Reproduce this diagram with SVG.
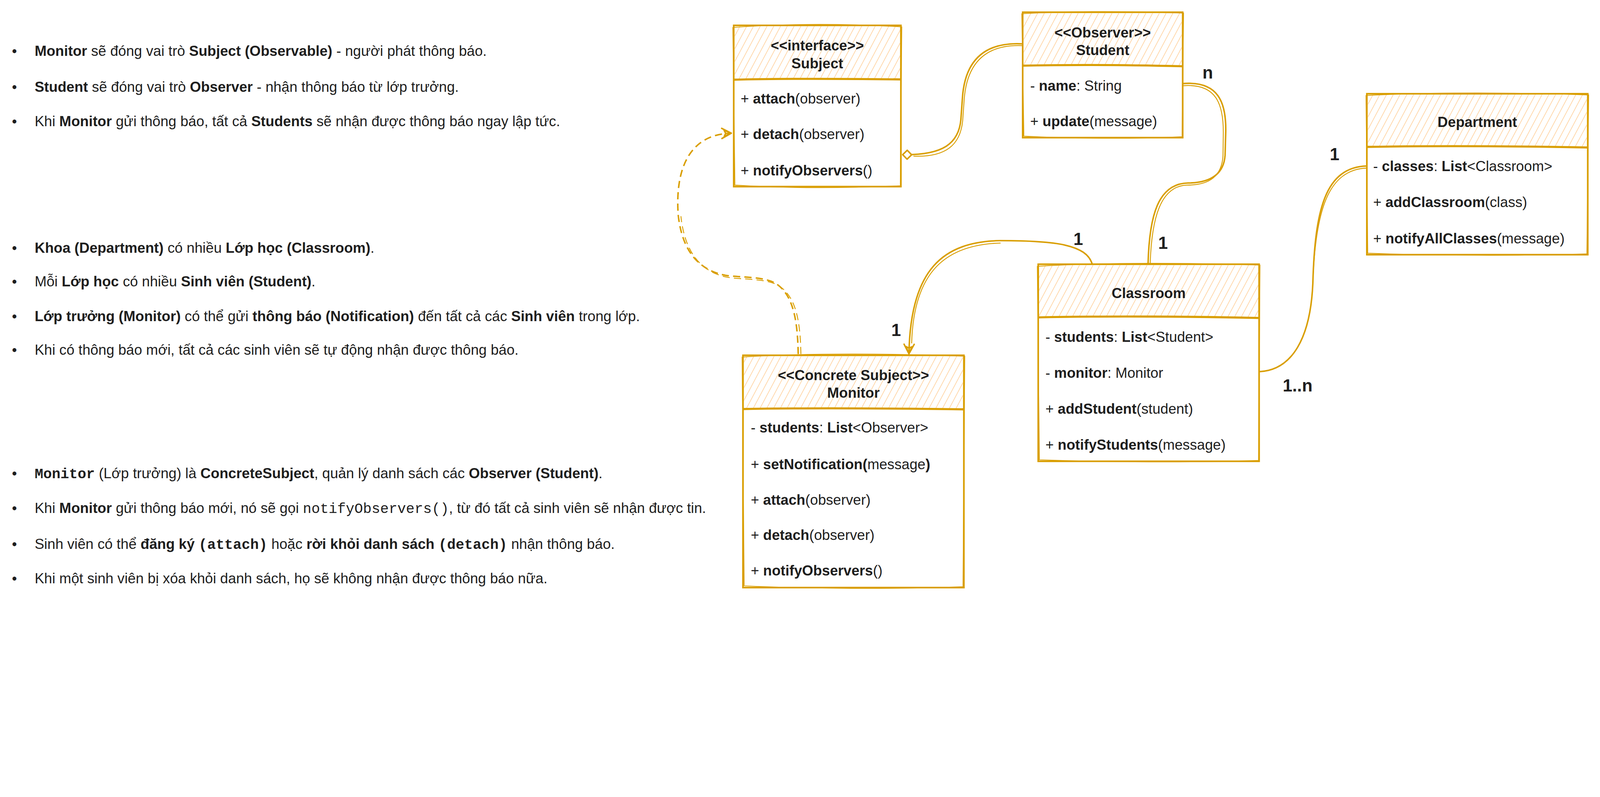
<svg xmlns="http://www.w3.org/2000/svg" width="5360" height="2040" viewBox="0 0 5360 2040">
<style>
svg{max-width:100vw;height:auto}
.t{font-family:"Liberation Sans",Arial,sans-serif;font-size:48px;fill:#1e1e1e}
.bx{font-family:"Liberation Sans",Arial,sans-serif;font-size:48px;fill:#1e1e1e}
.b{font-weight:bold}
.m{font-family:"Liberation Mono","DejaVu Sans Mono",monospace}
.lbl{font-family:"Liberation Sans",Arial,sans-serif;font-size:58px;font-weight:bold;fill:#1e1e1e}
.box{fill:#ffffff;stroke:#d99e00;stroke-width:5.5}
.sk{fill:none;stroke:#d99e00;stroke-width:2.5}
.dv{fill:none;stroke:#d99e00;stroke-width:7}
.ln{fill:none;stroke:#d99e00;stroke-width:5}
.ln2{fill:none;stroke:#d99e00;stroke-width:3}
.dash{stroke-dasharray:24 14}
</style>
<defs>
<pattern id="hatch" patternUnits="userSpaceOnUse" width="20" height="20" patternTransform="rotate(28)">
<line x1="10" y1="0" x2="10" y2="20" stroke="#ffd6a6" stroke-width="2.4"/>
</pattern>
<marker id="arrow" markerUnits="userSpaceOnUse" viewBox="-36 -22 40 44" refX="0" refY="0" markerWidth="40" markerHeight="44" orient="auto">
<path d="M-32,-17 L0,0 L-32,17 M-24,-10 L0,0 L-24,10 M-24,-10 L-19,0 L-24,10" fill="none" stroke="#d99e00" stroke-width="5" stroke-linejoin="round" stroke-linecap="round"/>
</marker>
<marker id="diamond" markerUnits="userSpaceOnUse" viewBox="-34 -20 38 40" refX="0" refY="0" markerWidth="38" markerHeight="40" orient="auto">
<path d="M0,0 L-15,-15 L-30,0 L-15,15 Z" fill="#ffffff" stroke="#d99e00" stroke-width="5" stroke-linejoin="round"/>
</marker>
</defs>
<rect width="5360" height="2040" fill="#ffffff"/>

<g id="notes">
<text class="t" x="40" y="187">•</text>
<text class="t" x="116" y="187"><tspan class="b">Monitor</tspan> sẽ đóng vai trò <tspan class="b">Subject (Observable)</tspan> - người phát thông báo.</text>
<text class="t" x="40" y="307">•</text>
<text class="t" x="116" y="307"><tspan class="b">Student</tspan> sẽ đóng vai trò <tspan class="b">Observer</tspan> - nhận thông báo từ lớp trưởng.</text>
<text class="t" x="40" y="423">•</text>
<text class="t" x="116" y="423">Khi <tspan class="b">Monitor</tspan> gửi thông báo, tất cả <tspan class="b">Students</tspan> sẽ nhận được thông báo ngay lập tức.</text>

<text class="t" x="40" y="847">•</text>
<text class="t" x="116" y="847"><tspan class="b">Khoa (Department)</tspan> có nhiều <tspan class="b">Lớp học (Classroom)</tspan>.</text>
<text class="t" x="40" y="959">•</text>
<text class="t" x="116" y="959">Mỗi <tspan class="b">Lớp học</tspan> có nhiều <tspan class="b">Sinh viên (Student)</tspan>.</text>
<text class="t" x="40" y="1076">•</text>
<text class="t" x="116" y="1076"><tspan class="b">Lớp trưởng (Monitor)</tspan> có thể gửi <tspan class="b">thông báo (Notification)</tspan> đến tất cả các <tspan class="b">Sinh viên</tspan> trong lớp.</text>
<text class="t" x="40" y="1188">•</text>
<text class="t" x="116" y="1188">Khi có thông báo mới, tất cả các sinh viên sẽ tự động nhận được thông báo.</text>

<text class="t" x="40" y="1602">•</text>
<text class="t" x="116" y="1602"><tspan class="b m">Monitor</tspan> (Lớp trưởng) là <tspan class="b">ConcreteSubject</tspan>, quản lý danh sách các <tspan class="b">Observer (Student)</tspan>.</text>
<text class="t" x="40" y="1718">•</text>
<text class="t" x="116" y="1718">Khi <tspan class="b">Monitor</tspan> gửi thông báo mới, nó sẽ gọi <tspan class="m">notifyObservers()</tspan>, từ đó tất cả sinh viên sẽ nhận được tin.</text>
<text class="t" x="40" y="1838">•</text>
<text class="t" x="116" y="1838">Sinh viên có thể <tspan class="b">đăng ký </tspan><tspan class="b m">(attach)</tspan> hoặc <tspan class="b">rời khỏi danh sách </tspan><tspan class="b m">(detach)</tspan> nhận thông báo.</text>
<text class="t" x="40" y="1954">•</text>
<text class="t" x="116" y="1954">Khi một sinh viên bị xóa khỏi danh sách, họ sẽ không nhận được thông báo nữa.</text>
</g>

<g id="connectors">
<path class="ln" d="M3426 147 C3300 140 3232 200 3224 330 L3219 400 C3212 480 3160 520 3024 518" marker-end="url(#diamond)"/>
<path class="ln2" d="M3428 153 C3306 147 3239 207 3230 334 L3225 404 C3217 487 3167 527 3060 523"/>
<path class="ln" d="M3962 280 C4080 270 4110 340 4106 450 L4104 520 C4100 580 4060 612 3980 613 C3880 615 3850 720 3846 885"/>
<path class="ln2" d="M3964 287 C4074 279 4100 347 4098 452 L4097 522 C4093 589 4053 620 3976 620 C3888 623 3858 729 3853 885"/>
<path class="ln" d="M3659 885 C3640 820 3540 806 3350 806 C3160 810 3050 900 3045 1185" marker-end="url(#arrow)"/>
<path class="ln2" d="M3352 814 C3170 819 3061 907 3054 1150"/>
<path class="ln" d="M4218 1245 C4330 1240 4390 1130 4398 950 C4405 700 4440 560 4579 556"/>
<path class="ln2" d="M4398 950 C4406 710 4447 567 4579 563"/>
<path class="ln dash" d="M2674 1186 C2672 1080 2660 990 2600 950 C2560 925 2480 930 2430 922 C2340 905 2285 840 2272 720 C2262 580 2300 450 2450 446" marker-end="url(#arrow)"/>
<path class="ln2 dash" d="M2683 1186 C2681 1082 2669 995 2609 957 C2569 932 2489 937 2439 929 C2349 912 2294 847 2281 724"/>
</g>

<g id="subject">
<rect class="box" x="2458" y="85" width="560" height="540"/>
<rect x="2461" y="88" width="554" height="178" fill="url(#hatch)"/>
<path class="sk" d="M2455 92 C2650 78 2850 80 3021 90 L3016 622 C2800 632 2620 630 2462 620 Z"/>
<path class="dv" d="M2458 267 C2650 262 2850 264 3018 266"/>
<text class="bx b" x="2738" y="169" text-anchor="middle">&lt;&lt;interface&gt;&gt;</text>
<text class="bx b" x="2738" y="229" text-anchor="middle">Subject</text>
<text class="bx" x="2481" y="347">+ <tspan class="b">attach</tspan>(observer)</text>
<text class="bx" x="2481" y="466">+ <tspan class="b">detach</tspan>(observer)</text>
<text class="bx" x="2481" y="588">+ <tspan class="b">notifyObservers</tspan>()</text>
</g>

<g id="student">
<rect class="box" x="3426" y="41" width="536" height="420"/>
<rect x="3429" y="44" width="530" height="175" fill="url(#hatch)"/>
<path class="sk" d="M3423 46 C3600 36 3800 38 3965 44 L3960 458 C3780 466 3600 464 3430 456 Z"/>
<path class="dv" d="M3426 220 C3600 216 3800 218 3962 222"/>
<text class="bx b" x="3694" y="126" text-anchor="middle">&lt;&lt;Observer&gt;&gt;</text>
<text class="bx b" x="3694" y="184" text-anchor="middle">Student</text>
<text class="bx" x="3451" y="303">- <tspan class="b">name</tspan>: String</text>
<text class="bx" x="3451" y="423">+ <tspan class="b">update</tspan>(message)</text>
</g>

<g id="department">
<rect class="box" x="4579" y="314" width="740" height="539"/>
<rect x="4582" y="317" width="734" height="174" fill="url(#hatch)"/>
<path class="sk" d="M4576 320 C4800 308 5100 310 5322 318 L5316 850 C5100 858 4800 856 4582 848 Z"/>
<path class="dv" d="M4579 492 C4800 488 5100 490 5319 494"/>
<text class="bx b" x="4949" y="425" text-anchor="middle">Department</text>
<text class="bx" x="4600" y="573">- <tspan class="b">classes</tspan>: <tspan class="b">List</tspan>&lt;Classroom&gt;</text>
<text class="bx" x="4600" y="693">+ <tspan class="b">addClassroom</tspan>(class)</text>
<text class="bx" x="4600" y="815">+ <tspan class="b">notifyAllClasses</tspan>(message)</text>
</g>

<g id="classroom">
<rect class="box" x="3478" y="885" width="740" height="660"/>
<rect x="3481" y="888" width="734" height="174" fill="url(#hatch)"/>
<path class="sk" d="M3475 892 C3700 878 4000 880 4221 888 L4216 1542 C4000 1550 3700 1548 3482 1540 Z"/>
<path class="dv" d="M3478 1063 C3700 1058 4000 1060 4218 1065"/>
<text class="bx b" x="3848" y="998" text-anchor="middle">Classroom</text>
<text class="bx" x="3502" y="1145">- <tspan class="b">students</tspan>: <tspan class="b">List</tspan>&lt;Student&gt;</text>
<text class="bx" x="3502" y="1265">- <tspan class="b">monitor</tspan>: Monitor</text>
<text class="bx" x="3502" y="1386">+ <tspan class="b">addStudent</tspan>(student)</text>
<text class="bx" x="3502" y="1506">+ <tspan class="b">notifyStudents</tspan>(message)</text>
</g>

<g id="monitor">
<rect class="box" x="2489" y="1190" width="740" height="778"/>
<rect x="2492" y="1193" width="734" height="176" fill="url(#hatch)"/>
<path class="sk" d="M2486 1196 C2700 1182 3000 1184 3232 1193 L3226 1965 C3000 1974 2700 1972 2493 1962 Z"/>
<path class="dv" d="M2489 1370 C2700 1366 3000 1368 3229 1371"/>
<text class="bx b" x="2859" y="1273" text-anchor="middle">&lt;&lt;Concrete Subject&gt;&gt;</text>
<text class="bx b" x="2859" y="1332" text-anchor="middle">Monitor</text>
<text class="bx" x="2515" y="1449">- <tspan class="b">students</tspan>: <tspan class="b">List</tspan>&lt;Observer&gt;</text>
<text class="bx" x="2515" y="1571">+  <tspan class="b">setNotification(</tspan>message<tspan class="b">)</tspan></text>
<text class="bx" x="2515" y="1690">+ <tspan class="b">attach</tspan>(observer)</text>
<text class="bx" x="2515" y="1809">+ <tspan class="b">detach</tspan>(observer)</text>
<text class="bx" x="2515" y="1928">+ <tspan class="b">notifyObservers</tspan>()</text>
</g>

<g id="labels">
<text class="lbl" x="4046" y="263" text-anchor="middle">n</text>
<text class="lbl" x="4471" y="537" text-anchor="middle">1</text>
<text class="lbl" x="3612" y="821" text-anchor="middle">1</text>
<text class="lbl" x="3896" y="833" text-anchor="middle">1</text>
<text class="lbl" x="3002" y="1126" text-anchor="middle">1</text>
<text class="lbl" x="4297" y="1311">1..n</text>
</g>
</svg>
